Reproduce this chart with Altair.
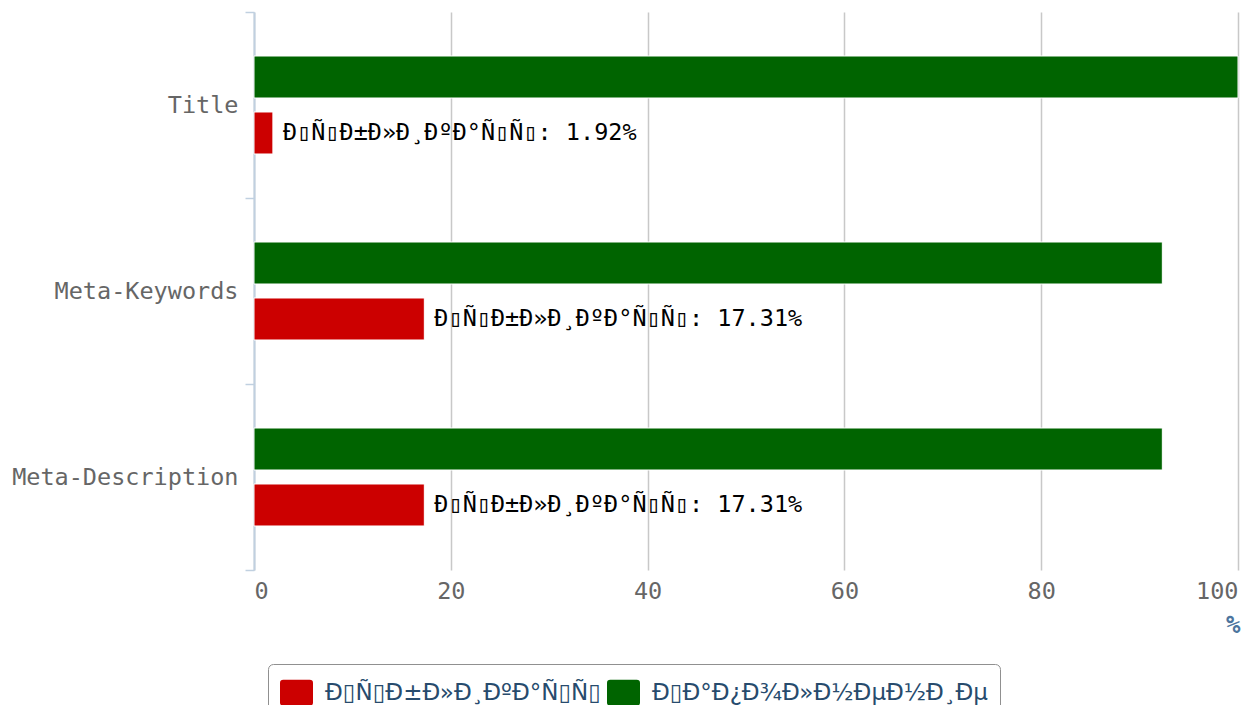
import altair as alt
import pandas as pd

categories = ["Title", "Meta-Keywords", "Meta-Description"]
duplicates = [1.92, 17.31, 17.31]
filled = [100.0, 92.31, 92.31]
series_ru = ["Дубликаты", "Заполнение"]


def mojibake(s):
    # UTF-8 bytes read as Latin-1; C1 control bytes show as empty boxes
    out = s.encode("utf-8").decode("latin-1")
    return "".join("\u25af" if 0x80 <= ord(ch) <= 0x9f else ch for ch in out)


series = [mojibake(s) for s in series_ru]
s_dup, s_fill = series
colors = ["#CC0000", "#006400"]

rows = []
for c, d, f in zip(categories, duplicates, filled):
    rows.append({"cat": c, "series": s_fill, "value": f, "label": ""})
    rows.append({"cat": c, "series": s_dup, "value": d, "label": f"{s_dup}: {d:.2f}%"})
df = pd.DataFrame(rows)

mono = "DejaVu Sans Mono"
legend_path = ("M-0.8,-0.79 H0.8 Q1,-0.79 1,-0.59 V0.59 Q1,0.79 0.8,0.79 "
               "H-0.8 Q-1,0.79 -1,0.59 V-0.59 Q-1,-0.79 -0.8,-0.79 Z")

y_enc = alt.Y(
    "cat:N", sort=categories,
    scale=alt.Scale(paddingInner=0, paddingOuter=0),
    axis=alt.Axis(title=None, domainColor="#C0D0E0", domainWidth=2,
                  tickColor="#C0D0E0", tickSize=9, tickWidth=1.5, tickBand="extent",
                  labelPadding=7, labelFont=mono, labelFontSize=23.5, labelLimit=400,
                  labelColor="#666666", grid=False),
)
yoff_enc = alt.YOffset("series:N", sort=[s_fill, s_dup],
                       scale=alt.Scale(paddingInner=0.25, paddingOuter=0.786))
x_enc = alt.X(
    "value:Q", scale=alt.Scale(domain=[0, 100], nice=False),
    axis=alt.Axis(title="%", values=[0, 20, 40, 60, 80, 100], domain=False, ticks=False,
                  grid=True, gridColor="#C8C8C8", gridWidth=1.5,
                  labelFlush=True, labelPadding=9, labelFont=mono, labelFontSize=23.5,
                  labelColor="#666666",
                  titleX=986, titleY=55, titleAlign="right", titleBaseline="middle",
                  titleFont=mono, titleFontSize=24, titleFontWeight="bold",
                  titleColor="#4d759e"),
)

bars = alt.Chart(df).mark_bar(stroke="white", strokeWidth=1).encode(
    y=y_enc, yOffset=yoff_enc, x=x_enc,
    color=alt.Color(
        "series:N", scale=alt.Scale(domain=series, range=colors),
        legend=alt.Legend(orient="none", legendX=14, legendY=652, direction="horizontal",
                          title=None, strokeColor="#909090", cornerRadius=5, padding=12,
                          fillColor="white", symbolType=legend_path, symbolSize=1089,
                          symbolStrokeWidth=0, symbolOpacity=1, labelFont="DejaVu Sans",
                          labelFontSize=23, labelColor="#274b6d", labelOffset=12,
                          columnPadding=6, labelLimit=500),
    ),
)

text = alt.Chart(df).mark_text(
    align="left", baseline="middle", dx=10, font=mono, fontSize=23.5, color="black"
).encode(y=y_enc, yOffset=yoff_enc, x="value:Q", text="label:N")

chart = alt.layer(bars, text).properties(
    width=984, height=558,
    padding={"left": 246, "top": 4, "right": 3, "bottom": 135},
    autosize="none", background="white",
).configure_view(stroke=None)

chart.save("out.html", embed_options={"renderer": "svg", "actions": False})
